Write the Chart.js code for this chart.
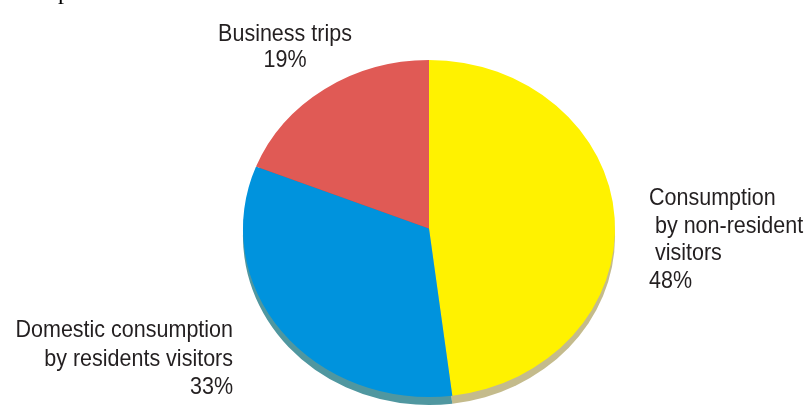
<!DOCTYPE html>
<html>
<head>
<meta charset="utf-8">
<script src="https://cdn.jsdelivr.net/npm/chart.js@4"></script>
<style>
  html, body { margin: 0; padding: 0; background: #fff; }
  #wrap { width: 808px; height: 410px; }
</style>
</head>
<body>
<div id="wrap"><canvas id="myChart" width="808" height="410"></canvas></div>
<script>
const categories = ['Consumption by non-resident visitors', 'Domestic consumption by residents visitors', 'Business trips'];
const shares = [48, 33, 19];
const sliceColors = ['#fff200', '#0093dd', '#e05a55'];
const edgeColors = ['#c4bb8c', '#5097a0', '#a84a48'];

// label text lines, one array per slice
const labelLines = [
  ['Consumption', ' by non-resident', ' visitors', '48%'],
  ['Domestic consumption', 'by residents visitors', '33%'],
  ['Business trips', '19%']
];

const stretchX = 1.104;  // pie is drawn a bit wider than tall
const depth = 8;

const tiltPlugin = {
  id: 'tilt',
  beforeDatasetsDraw(chart) {
    const ctx = chart.ctx;
    const arcs = chart.getDatasetMeta(0).data;
    const cx = arcs[0].x, cy = arcs[0].y;
    ctx.save();
    ctx.translate(cx, cy);
    ctx.scale(stretchX, 1);
    ctx.translate(-cx, -cy);
    // side of the disc, under the top face
    arcs.forEach((a, i) => {
      ctx.beginPath();
      ctx.moveTo(a.x, a.y + depth);
      ctx.arc(a.x, a.y + depth, a.outerRadius, a.startAngle, a.endAngle);
      ctx.closePath();
      ctx.fillStyle = edgeColors[i];
      ctx.fill();
    });
  },
  afterDatasetsDraw(chart) {
    chart.ctx.restore();
  }
};

// slightly tall text, like the narrow font of the original
function tallText(ctx, t, x, y) {
  ctx.save();
  ctx.translate(x, y);
  ctx.scale(1, 1.08);
  ctx.fillText(t, 0, 0);
  ctx.restore();
}

const labelPlugin = {
  id: 'sliceLabels',
  afterDraw(chart) {
    const ctx = chart.ctx;
    ctx.save();
    ctx.fillStyle = '#231f20';
    ctx.font = '21.5px "Liberation Sans", Arial, sans-serif';
    ctx.textBaseline = 'alphabetic';

    ctx.textAlign = 'left';
    labelLines[0].forEach((t, k) => tallText(ctx, t, 649, 205 + k * 27.7));

    ctx.textAlign = 'right';
    labelLines[1].forEach((t, k) => tallText(ctx, t, 233, 337 + k * 28.5));

    ctx.textAlign = 'center';
    labelLines[2].forEach((t, k) => tallText(ctx, t, 285, 41 + k * 26));

    // page heading cut off at the top of the picture
    ctx.textAlign = 'left';
    ctx.fillStyle = '#000';
    ctx.font = '24px "Liberation Serif", "Times New Roman", serif';
    ctx.fillText('Graph 7.7', 22, -1);
    ctx.restore();
  }
};

new Chart(document.getElementById('myChart').getContext('2d'), {
  type: 'pie',
  data: {
    labels: categories,
    datasets: [{
      data: shares,
      backgroundColor: sliceColors,
      borderWidth: 0,
      offset: 0,
      hoverOffset: 0,
      clip: false
    }]
  },
  options: {
    responsive: false,
    animation: false,
    layout: { padding: { left: 260, right: 210, top: 60, bottom: 13 } },
    plugins: {
      legend: { display: false },
      tooltip: { enabled: false }
    }
  },
  plugins: [tiltPlugin, labelPlugin]
});
</script>
</body>
</html>
